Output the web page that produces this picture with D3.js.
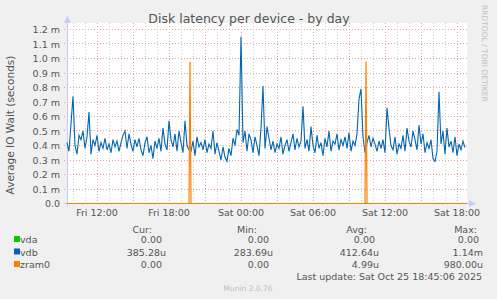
<!DOCTYPE html>
<html>
<head>
<meta charset="utf-8">
<script src="https://cdn.jsdelivr.net/npm/d3@7"></script>
<style>
  body { margin: 0; background: #f0f0f0; }
  svg { display: block; font-family: 'DejaVu Sans', sans-serif; }
</style>
</head>
<body>
<div id="chart"></div>
<script>
// vdb average io wait, in milliseconds, one sample per 10 min from Fri 09:30
const vdb = [
  0.42, 0.36, 0.55, 0.74, 0.40, 0.34, 0.47, 0.44, 0.50, 0.38, 0.46, 0.63, 0.34, 0.44, 0.40, 0.47, 0.36, 0.42, 0.38, 0.45,
  0.37, 0.41, 0.35, 0.44, 0.39, 0.43, 0.36, 0.42, 0.47, 0.50, 0.38, 0.48, 0.41, 0.36, 0.44, 0.39, 0.45, 0.37, 0.33, 0.42,
  0.46, 0.35, 0.40, 0.31, 0.43, 0.38, 0.45, 0.36, 0.52, 0.41, 0.37, 0.57, 0.44, 0.39, 0.48, 0.36, 0.50, 0.42, 0.35, 0.57,
  0.40, 0.37, 0.36, 0.43, 0.33, 0.46, 0.39, 0.42, 0.37, 0.44, 0.35, 0.41, 0.38, 0.50, 0.34, 0.42, 0.36, 0.30, 0.39, 0.32,
  0.29, 0.38, 0.33, 0.45, 0.40, 0.51, 0.47, 1.15, 0.42, 0.50, 0.36, 0.48, 0.44, 0.35, 0.46, 0.40, 0.33, 0.52, 0.81, 0.38,
  0.53, 0.45, 0.37, 0.43, 0.35, 0.41, 0.38, 0.46, 0.34, 0.40, 0.44, 0.36, 0.42, 0.48, 0.37, 0.45, 0.39, 0.43, 0.67, 0.38,
  0.44, 0.36, 0.53, 0.40, 0.35, 0.47, 0.38, 0.42, 0.33, 0.45, 0.39, 0.50, 0.36, 0.43, 0.41, 0.48, 0.37, 0.44, 0.40, 0.46,
  0.38, 0.49, 0.36, 0.43, 0.40, 0.48, 0.72, 0.79, 0.46, 0.35, 0.42, 0.47, 0.39, 0.45, 0.41, 0.36, 0.43, 0.38, 0.44, 0.35,
  0.66, 0.52, 0.40, 0.37, 0.46, 0.34, 0.41, 0.38, 0.47, 0.36, 0.52, 0.43, 0.39, 0.50, 0.44, 0.37, 0.54, 0.41, 0.48, 0.35,
  0.42, 0.38, 0.44, 0.31, 0.29, 0.36, 0.77, 0.41, 0.50, 0.34, 0.52, 0.39, 0.43, 0.35, 0.46, 0.33, 0.41, 0.37, 0.43, 0.385
]
// zram0 is flat zero except for two single-sample spikes (minutes from start)
const zramMinutes = [0, 610, 615, 620, 1490, 1495, 1500, 2000]
const zramValues = [0, 0, 0.98, 0, 0, 0.98, 0, 0]
// vda is flat zero
const vdaMinutes = [0, 2000]
const vdaValues = [0, 0]

const yTicks = [0, 0.1, 0.2, 0.3, 0.4, 0.5, 0.6, 0.7, 0.8, 0.9, 1.0, 1.1, 1.2]
const xLabels = ['Fri 12:00', 'Fri 18:00', 'Sat 00:00', 'Sat 06:00', 'Sat 12:00', 'Sat 18:00']

const series = ['vda', 'vdb', 'zram0']
const colors = ['#00cc00', '#0066b3', '#ff8000']
const curVals = ['0.00', '385.28u', '0.00']
const minVals = ['0.00', '283.69u', '0.00']
const avgVals = ['0.00', '412.64u', '4.99u']
const maxVals = ['0.00', '1.14m', '980.00u']

const width = 497, height = 299
const plot = { left: 67, right: 467, top: 23, bottom: 203 }
const start = new Date(2025, 9, 24, 9, 30)
const end = new Date(2025, 9, 25, 18, 50)

const svg = d3.select('#chart').append('svg').attr('width', width).attr('height', height)
svg.append('rect').attr('width', width).attr('height', height).attr('fill', '#f0f0f0')
svg.append('rect')
    .attr('x', plot.left).attr('y', plot.top)
    .attr('width', plot.right - plot.left).attr('height', plot.bottom - plot.top)
    .attr('fill', '#ffffff')

let x = d3.scaleTime().domain([start, end]).range([plot.left, plot.right])
// half-pixel offset so the zero line sits on one pixel row
let y = d3.scaleLinear().domain([0, 1.2]).range([plot.bottom + 0.5, 29.5])
const atMin = m => new Date(start.getTime() + m * 60000)

// minor grid every hour, major every 3 hours
let hours = d3.timeHour.range(start, end)
svg.selectAll('.minor')
    .data(hours.filter(d => d.getHours() % 3 != 0))
    .enter()
    .append('line')
    .attr('x1', d => Math.round(x(d)) + 0.5).attr('x2', d => Math.round(x(d)) + 0.5)
    .attr('y1', plot.top).attr('y2', plot.bottom + 2)
    .attr('stroke', '#cfcfcf').attr('stroke-dasharray', '1,2')
svg.selectAll('.major')
    .data(hours.filter(d => d.getHours() % 3 == 0))
    .enter()
    .append('line')
    .attr('x1', d => Math.round(x(d)) + 0.5).attr('x2', d => Math.round(x(d)) + 0.5)
    .attr('y1', plot.top).attr('y2', plot.bottom + 3)
    .attr('stroke', '#eba0a0').attr('stroke-dasharray', '1,2')

svg.selectAll('.hgrid')
    .data(yTicks)
    .enter()
    .append('line')
    .attr('x1', plot.left - 3).attr('x2', plot.right + 1)
    .attr('y1', d => Math.floor(y(d)) + 0.5).attr('y2', d => Math.floor(y(d)) + 0.5)
    .attr('stroke', '#eba0a0').attr('stroke-dasharray', '1,2')

// y tick labels
svg.selectAll('.ylab')
    .data(yTicks)
    .enter()
    .append('text')
    .attr('x', 60).attr('y', d => y(d) + 3.5)
    .attr('text-anchor', 'end')
    .attr('font-size', '9.5px').attr('fill', '#555')
    .text(d => d == 0 ? '0.0' : d3.format('.1f')(d) + ' m')

// x tick labels every 6 hours
let labelHours = hours.filter(d => d.getHours() % 6 == 0)
svg.selectAll('.xlab')
    .data(labelHours)
    .enter()
    .append('text')
    .attr('x', d => x(d)).attr('y', 216)
    .attr('text-anchor', 'middle')
    .attr('font-size', '9.5px').attr('fill', '#555')
    .text((d, i) => xLabels[i])

// axes with arrows
svg.append('line')
    .attr('x1', plot.left + 0.5).attr('x2', plot.left + 0.5)
    .attr('y1', plot.bottom + 3).attr('y2', 20)
    .attr('stroke', '#c8c8ff')
svg.append('path').attr('d', `M${plot.left - 3},23 L${plot.left + 0.5},16 L${plot.left + 4},23 Z`).attr('fill', '#c8c8ff')
svg.append('line')
    .attr('x1', plot.left - 3).attr('x2', plot.right + 4)
    .attr('y1', plot.bottom + 0.5).attr('y2', plot.bottom + 0.5)
    .attr('stroke', '#c8c8ff')
svg.append('path')
    .attr('d', `M${plot.right + 2},${plot.bottom - 3} L${plot.right + 9},${plot.bottom + 0.5} L${plot.right + 2},${plot.bottom + 4} Z`)
    .attr('fill', '#c8c8ff')

// series lines
let line = d3.line().x(d => x(d[0])).y(d => y(d[1]))
let vdaData = vdaMinutes.map((m, i) => [atMin(m), vdaValues[i]])
let vdbData = vdb.map((v, i) => [atMin(i * 10), v])
let zramData = zramMinutes.map((m, i) => [atMin(m), zramValues[i]])

svg.append('path').datum(vdaData).attr('d', line)
    .attr('fill', 'none').attr('stroke', colors[0]).attr('stroke-width', 1)
svg.append('path').datum(vdbData).attr('d', line)
    .attr('fill', 'none').attr('stroke', colors[1]).attr('stroke-width', 1.1)
svg.append('path').datum(zramData).attr('d', line)
    .attr('fill', 'none').attr('stroke', colors[2]).attr('stroke-width', 1.2)

// title and labels
svg.append('text')
    .attr('x', 249).attr('y', 23)
    .attr('text-anchor', 'middle')
    .attr('font-size', '12.5px').attr('fill', '#555')
    .text('Disk latency per device - by day')
svg.append('text')
    .attr('transform', 'translate(14,' + 125 + ') rotate(-90)')
    .attr('text-anchor', 'middle')
    .attr('font-size', '10.5px').attr('fill', '#555')
    .text('Average IO Wait (seconds)')
svg.append('text')
    .attr('transform', 'translate(482,5) rotate(90)')
    .attr('font-size', '7.5px').attr('fill', '#c0c0c0')
    .text('RRDTOOL / TOBI OETIKER')

// legend
const colRight = [166, 273, 379, 483]
const headers = ['Cur:', 'Min:', 'Avg:', 'Max:']
const headerRight = [152, 257, 367, 477]
headers.forEach((h, i) => {
    svg.append('text')
        .attr('x', headerRight[i]).attr('y', 233)
        .attr('text-anchor', 'end')
        .attr('font-size', '9.5px').attr('fill', '#555')
        .text(h)
})
const cols = [curVals, minVals, avgVals, maxVals]
series.forEach((s, r) => {
    let by = 243 + r * 12.5
    svg.append('rect')
        .attr('x', 14).attr('y', by - 7)
        .attr('width', 6).attr('height', 6)
        .attr('fill', colors[r])
    svg.append('text')
        .attr('x', 20).attr('y', by)
        .attr('font-size', '9.5px').attr('fill', '#555')
        .text(s)
    cols.forEach((c, j) => {
        let v = c[r]
        let hasUnit = /[um]$/.test(v)
        svg.append('text')
            .attr('x', colRight[j] - (hasUnit ? 0 : 4))
            .attr('y', by)
            .attr('text-anchor', 'end')
            .attr('font-size', '9.5px').attr('fill', '#555')
            .text(v)
    })
})
svg.append('text')
    .attr('x', 482).attr('y', 280)
    .attr('text-anchor', 'end')
    .attr('font-size', '9.5px').attr('fill', '#555')
    .text('Last update: Sat Oct 25 18:45:06 2025')
svg.append('text')
    .attr('x', 248).attr('y', 291)
    .attr('text-anchor', 'middle')
    .attr('font-size', '7.5px').attr('fill', '#c0c0c0')
    .text('Munin 2.0.76')
</script>
</body>
</html>
